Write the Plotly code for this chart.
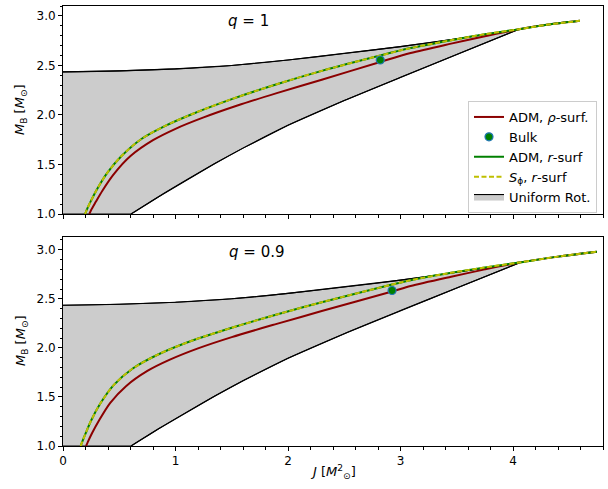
import plotly.graph_objects as go

# ---------------- data ----------------
# Uniform-rotation region boundaries (identical in both panels)
UR_UPPER_J = [0.0, 0.5, 1.0, 1.5, 2.0, 2.5, 3.0, 3.5, 4.054]
UR_UPPER_M = [2.435, 2.445, 2.465, 2.50, 2.555, 2.62, 2.69, 2.77, 2.866]
UR_LOWER_J = [0.605, 0.85, 1.1, 1.35, 1.6, 2.0, 2.5, 3.0, 3.5, 4.054]
UR_LOWER_M = [1.0, 1.175, 1.345, 1.51, 1.665, 1.895, 2.145, 2.38, 2.61, 2.866]

# q = 1 panel
Q1_RHO_J = [0.234, 0.25, 0.29, 0.35, 0.45, 0.60, 0.80, 1.00, 1.25, 1.55, 1.90, 2.30, 2.82, 3.09, 3.45, 3.75, 4.054, 4.30, 4.595]
Q1_RHO_M = [1.0, 1.04, 1.12, 1.235, 1.40, 1.585, 1.745, 1.86, 1.975, 2.095, 2.22, 2.355, 2.535, 2.625, 2.72, 2.795, 2.866, 2.91, 2.95]
Q1_R_J = [0.196, 0.21, 0.245, 0.30, 0.39, 0.52, 0.70, 0.90, 1.15, 1.50, 1.90, 2.30, 2.82, 3.09, 3.45, 3.75, 4.054, 4.30, 4.595]
Q1_R_M = [1.0, 1.04, 1.125, 1.245, 1.41, 1.585, 1.76, 1.885, 2.01, 2.16, 2.31, 2.445, 2.60, 2.675, 2.755, 2.815, 2.866, 2.91, 2.95]
Q1_BULK_J = [2.82]
Q1_BULK_M = [2.555]

# q = 0.9 panel
Q09_RHO_J = [0.205, 0.22, 0.26, 0.32, 0.42, 0.56, 0.75, 0.95, 1.20, 1.50, 1.90, 2.30, 2.925, 3.09, 3.45, 3.75, 4.055, 4.40, 4.746]
Q09_RHO_M = [1.0, 1.04, 1.135, 1.26, 1.44, 1.61, 1.765, 1.88, 1.995, 2.11, 2.245, 2.375, 2.575, 2.63, 2.725, 2.80, 2.87, 2.93, 2.98]
Q09_R_J = [0.157, 0.17, 0.20, 0.25, 0.33, 0.45, 0.62, 0.85, 1.15, 1.50, 1.90, 2.30, 2.925, 3.09, 3.45, 3.75, 4.055, 4.40, 4.746]
Q09_R_M = [1.0, 1.04, 1.125, 1.26, 1.43, 1.62, 1.79, 1.935, 2.075, 2.205, 2.34, 2.465, 2.645, 2.69, 2.765, 2.82, 2.87, 2.93, 2.98]
Q09_BULK_J = [2.925]
Q09_BULK_M = [2.585]

X_RANGE = [0.0, 4.8]
Y_MIN = 1.0
Y1_RANGE = [Y_MIN, 3.1]
Y2_RANGE = [Y_MIN, 3.13]
X_TICKS = [0, 1, 2, 3, 4]
Y_TICKS = [1.0, 1.5, 2.0, 2.5, 3.0]

PANEL_LABELS = ["<i>q</i> = 1", "<i>q</i> = 0.9"]
LEGEND_NAMES = ["ADM, <i>ρ</i>-surf.", "Bulk", "ADM, <i>r</i>-surf",
                "<i>S</i><sub>ϕ</sub>, <i>r</i>-surf", "Uniform Rot."]

# ---------------- figure ----------------
W, H = 608, 489
L, R, T, B = 63, 5, 6, 43
PH = H - T - B
FONT = "DejaVu Sans"

RED = "#8b0000"
GREEN = "#008000"
YELLOW = "#bfbf00"
GRAY = "#cccccc"
SM = 0.8

fig = go.Figure()

panels = [
    ("x", "y", Q1_RHO_J, Q1_RHO_M, Q1_R_J, Q1_R_M, Q1_BULK_J, Q1_BULK_M, True),
    ("x2", "y2", Q09_RHO_J, Q09_RHO_M, Q09_R_J, Q09_R_M, Q09_BULK_J, Q09_BULK_M, False),
]

for xa, ya, rj, rm, gj, gm, bj, bm, show in panels:
    poly_j = UR_UPPER_J + UR_LOWER_J[::-1] + [UR_UPPER_J[0]]
    poly_m = UR_UPPER_M + UR_LOWER_M[::-1] + [Y_MIN]
    fig.add_trace(go.Scatter(
        x=poly_j, y=poly_m, xaxis=xa, yaxis=ya, mode="lines",
        fill="toself", fillcolor=GRAY,
        line=dict(color="black", width=1.1),
        name=LEGEND_NAMES[4], showlegend=show, legendrank=5, hoverinfo="skip"))
    for bj_, bm_ in ((UR_UPPER_J, UR_UPPER_M), (UR_LOWER_J, UR_LOWER_M)):
        fig.add_trace(go.Scatter(
            x=bj_, y=bm_, xaxis=xa, yaxis=ya, mode="lines",
            line=dict(color="black", width=1.1, shape="spline", smoothing=0.8),
            showlegend=False, hoverinfo="skip"))
    fig.add_trace(go.Scatter(
        x=rj, y=rm, xaxis=xa, yaxis=ya, mode="lines",
        line=dict(color=RED, width=2, shape="spline", smoothing=SM),
        name=LEGEND_NAMES[0], showlegend=show, legendrank=1))
    fig.add_trace(go.Scatter(
        x=gj, y=gm, xaxis=xa, yaxis=ya, mode="lines",
        line=dict(color=GREEN, width=2, shape="spline", smoothing=SM),
        name=LEGEND_NAMES[2], showlegend=show, legendrank=3))
    fig.add_trace(go.Scatter(
        x=gj, y=gm, xaxis=xa, yaxis=ya, mode="lines",
        line=dict(color=YELLOW, width=2, dash="5px,2.5px", shape="spline", smoothing=SM),
        name=LEGEND_NAMES[3], showlegend=show, legendrank=4))
    fig.add_trace(go.Scatter(
        x=bj, y=bm, xaxis=xa, yaxis=ya, mode="markers",
        marker=dict(color=GREEN, size=8, line=dict(color="#1f77b4", width=1.2)),
        name=LEGEND_NAMES[1], showlegend=show, legendrank=2))

top_bottom_px = 214
bot_top_px = 237
top_dom = [(H - B - top_bottom_px) / PH, 1.0]
bot_dom = [0.0, (H - B - bot_top_px) / PH]

axis_common = dict(
    showline=True, linecolor="black", linewidth=1, mirror=True,
    ticks="outside", ticklen=4, tickwidth=1, tickcolor="black",
    showgrid=False, zeroline=False, layer="above traces",
    tickfont=dict(family=FONT, size=12, color="black"),
)
minor_x = dict(dtick=0.2, ticklen=2.5, ticks="outside", tickcolor="black", showgrid=False)
minor_y = dict(dtick=0.1, ticklen=2.5, ticks="outside", tickcolor="black", showgrid=False)

fig.update_layout(
    width=W, height=H,
    margin=dict(l=L, r=R, t=T, b=B, autoexpand=False),
    paper_bgcolor="white", plot_bgcolor="white",
    font=dict(family=FONT, size=12, color="black"),
    showlegend=True,
    legend=dict(
        x=(597 - L) / (W - L - R), y=(H - B - 101) / PH,
        xanchor="right", yanchor="top",
        bgcolor="white", bordercolor="#cccccc", borderwidth=1,
        font=dict(family=FONT, size=13, color="black"),
        itemwidth=30, tracegroupgap=0,
    ),
    xaxis=dict(axis_common, domain=[0, 1], anchor="y", range=X_RANGE,
               tickvals=X_TICKS, showticklabels=False, minor=minor_x),
    yaxis=dict(axis_common, domain=top_dom, anchor="x", range=Y1_RANGE,
               tickvals=Y_TICKS, tickformat=".1f", minor=minor_y),
    xaxis2=dict(axis_common, domain=[0, 1], anchor="y2", range=X_RANGE,
                tickvals=X_TICKS, matches="x", minor=minor_x),
    yaxis2=dict(axis_common, domain=bot_dom, anchor="x2", range=Y2_RANGE,
                tickvals=Y_TICKS, tickformat=".1f", minor=minor_y),
)

def px_x(px):
    return (px - L) / (W - L - R)

def px_y(py):
    return (H - B - py) / PH

ann = []
ylab = "<i>M</i><sub>B</sub> [<i>M</i><sub>⊙</sub>]"
for yc in (110, 341):
    ann.append(dict(text=ylab, x=px_x(21), y=px_y(yc), xref="paper", yref="paper",
                    xanchor="center", yanchor="middle",
                    textangle=-90, showarrow=False, font=dict(family=FONT, size=13)))
ann.append(dict(text="<i>J</i> [<i>M</i><sup>2</sup><sub>⊙</sub>]", x=px_x(333), y=px_y(472),
                xref="paper", yref="paper", xanchor="center", yanchor="middle",
                showarrow=False, font=dict(family=FONT, size=13)))
ann.append(dict(text=PANEL_LABELS[0], x=px_x(226), y=px_y(21), xref="paper", yref="paper",
                xanchor="left", yanchor="middle", showarrow=False, font=dict(family=FONT, size=15)))
ann.append(dict(text=PANEL_LABELS[1], x=px_x(227), y=px_y(252), xref="paper", yref="paper",
                xanchor="left", yanchor="middle", showarrow=False, font=dict(family=FONT, size=15)))
fig.update_layout(annotations=ann)

fig.write_html("out.html", config={"displayModeBar": False},
               post_script="document.body.style.margin='0';document.body.style.padding='0';")
